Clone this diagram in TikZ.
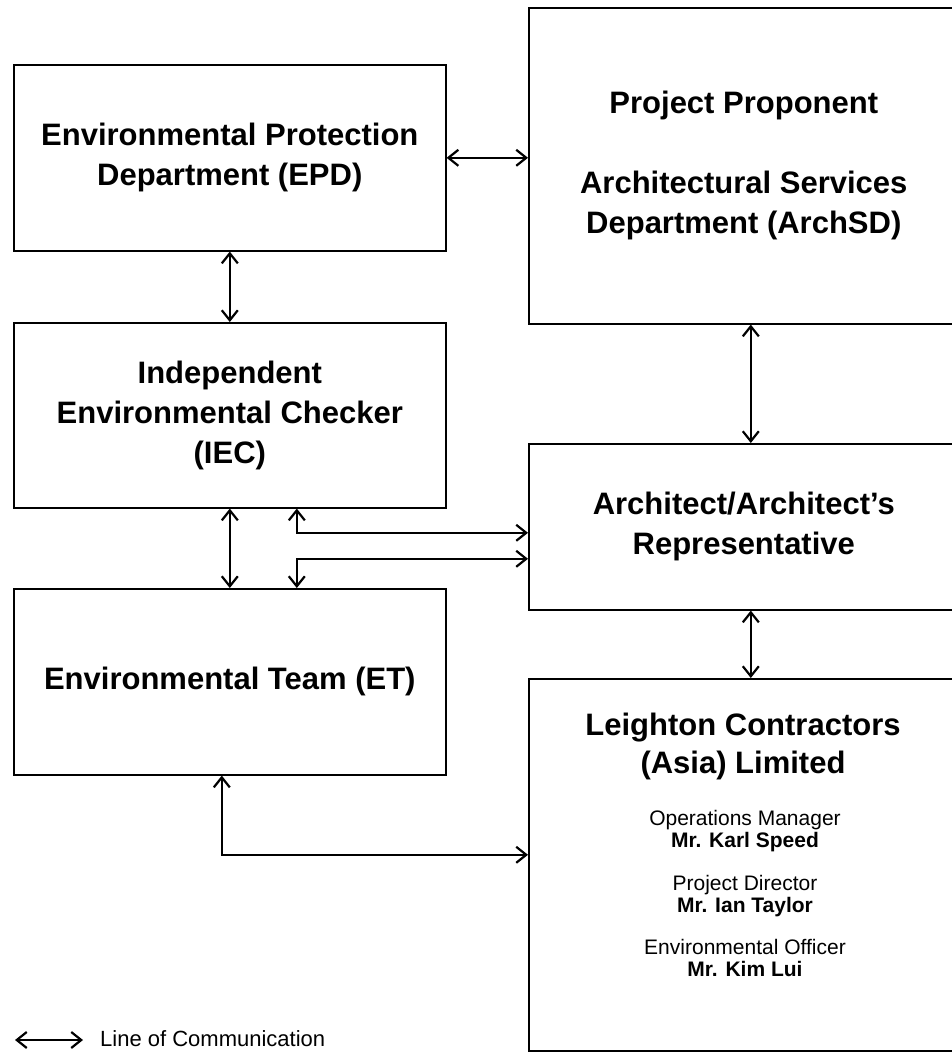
\documentclass[tikz,border=0pt]{standalone}
\usepackage{fontspec}
\setmainfont{Liberation Sans}
\usetikzlibrary{arrows.meta}
\begin{document}
\begin{tikzpicture}[x=1pt,y=-1pt,
  box/.style={draw, line width=1.6pt, inner sep=0pt, anchor=north west, align=center,
    font=\fontsize{31}{40}\selectfont\bfseries},
  comm/.style={line width=2.2pt, {Straight Barb[length=10pt,width=16pt]}-{Straight Barb[length=10pt,width=16pt]}},
  small/.style={align=center, anchor=base, inner sep=0pt, font=\fontsize{21}{22}\selectfont},
]
\useasboundingbox (0,0) rectangle (952,1052);
\node[box, minimum width=432pt, minimum height=186pt] (epd) at (13,64)
  {Environmental Protection\\Department (EPD)};
\node[box, minimum width=432pt, minimum height=185pt] (iec) at (13,322)
  {Independent\\Environmental Checker\\(IEC)};
\node[box, minimum width=432pt, minimum height=186pt] (et) at (13,588)
  {Environmental Team (ET)};
\node[box, minimum width=430pt, minimum height=316pt] (pp) at (528,7)
  {Project Proponent\\[40pt]Architectural Services\\Department (ArchSD)};
\node[box, minimum width=430pt, minimum height=166pt] (arch) at (528,443)
  {Architect/Architect’s\\Representative};
\node[box, minimum width=430pt, minimum height=372pt] (lcl) at (528,678) {};
\node[align=center, anchor=base, inner sep=0pt, font=\fontsize{31}{38}\selectfont\bfseries] (lclt) at (743,773)
  {Leighton Contractors\\(Asia) Limited};
\node[small] (om) at (745,847) {Operations Manager\\\textbf{Mr. Karl Speed}};
\node[small] (pd) at (745,912) {Project Director\\\textbf{Mr. Ian Taylor}};
\node[small] (eo) at (745,976) {Environmental Officer\\\textbf{Mr. Kim Lui}};

\draw[comm] (epd.east) -- (epd.east -| pp.west);
\draw[comm] (epd.south) -- (iec.north);
\draw[comm] (iec.south) -- (et.north);
\draw[comm] ([xshift=67pt]iec.south) |- ([yshift=-6pt]arch.west);
\draw[comm] ([xshift=67pt]et.north) |- ([yshift=-32pt]arch.west);
\draw[comm] ([xshift=-8pt]et.south) |- ([yshift=10pt]lcl.west);
\draw[comm] ([xshift=7pt]pp.south) -- ([xshift=7pt]arch.north);
\draw[comm] ([xshift=7pt]arch.south) -- ([xshift=7pt]lcl.north);

\coordinate (la) at (15,1040);
\coordinate (lb) at (83,1040);
\draw[comm] (la) -- (lb);
\node[anchor=west, inner sep=0pt, font=\fontsize{22}{24}\selectfont] (leg) at (100,1039) {Line of Communication};
\end{tikzpicture}
\end{document}
